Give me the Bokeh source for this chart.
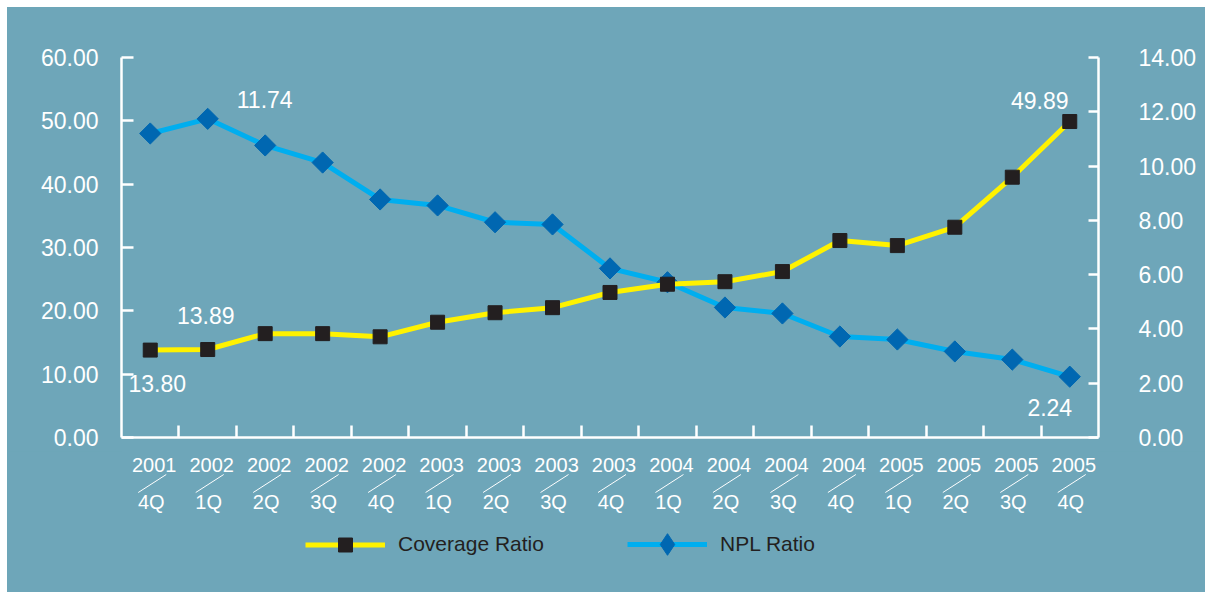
import math
from bokeh.plotting import figure
from bokeh.layouts import column
from bokeh.models import (Range1d, LinearAxis, NumeralTickFormatter, FixedTicker,
                          Label, Legend, LegendItem)
from bokeh.core.properties import value
from bokeh.embed import file_html
from bokeh.resources import INLINE

# ---- data ----
years = ["2001", "2002", "2002", "2002", "2002", "2003", "2003", "2003", "2003",
         "2004", "2004", "2004", "2004", "2005", "2005", "2005", "2005"]
quarters = ["4Q", "1Q", "2Q", "3Q", "4Q", "1Q", "2Q", "3Q", "4Q",
            "1Q", "2Q", "3Q", "4Q", "1Q", "2Q", "3Q", "4Q"]
coverage = [13.80, 13.89, 16.4, 16.4, 15.9, 18.2, 19.7, 20.5, 22.9,
            24.2, 24.6, 26.2, 31.1, 30.3, 33.2, 41.1, 49.89]
npl = [11.20, 11.74, 10.76, 10.13, 8.77, 8.55, 7.93, 7.85, 6.23,
       5.72, 4.79, 4.57, 3.72, 3.61, 3.17, 2.87, 2.24]
left_ticks = [0, 10, 20, 30, 40, 50, 60]
right_ticks = [0, 2, 4, 6, 8, 10, 12, 14]
series_names = ["Coverage Ratio", "NPL Ratio"]

BG = "#6ea6b9"
FONT = "Liberation Sans"
YELLOW = "#fff200"
SQ = "#231f20"
BLUE = "#00aeef"
DIAM = "#0067b1"
n = len(years)
xs = [i + 0.5 for i in range(n)]
PX = 977.0 / n  # pixels per category (for small offsets)

W = 1198
BL, BR = 114, 107
H1 = 444
H2 = 585 - H1

p = figure(width=W, height=H1, output_backend="svg", toolbar_location=None,
           x_range=Range1d(0, n), y_range=Range1d(0, 60),
           min_border_left=BL, min_border_right=BR, min_border_top=50,
           min_border_bottom=14)
p.background_fill_color = BG
p.border_fill_color = BG
p.outline_line_color = None
p.xgrid.visible = False
p.ygrid.visible = False
p.extra_y_ranges = {"npl": Range1d(0, 14)}

for ax in [p.xaxis[0], p.yaxis[0]]:
    ax.axis_line_color = "white"
    ax.axis_line_width = 2.5
    ax.major_tick_line_color = "white"
    ax.major_tick_line_width = 2.5
    ax.major_tick_in = 12
    ax.major_tick_out = 0
    ax.minor_tick_line_color = None

p.xaxis.ticker = FixedTicker(ticks=list(range(1, n)))
p.xaxis.major_label_text_font_size = "0px"
p.xaxis.major_label_standoff = 0
p.xaxis.major_label_overrides = {i: "" for i in range(1, n)}

p.yaxis.ticker = FixedTicker(ticks=left_ticks)
p.yaxis.formatter = NumeralTickFormatter(format="0.00")
p.yaxis.major_label_text_color = "white"
p.yaxis.major_label_text_font = FONT
p.yaxis.major_label_text_font_size = "23px"
p.yaxis.major_label_standoff = 23

rax = LinearAxis(y_range_name="npl", ticker=FixedTicker(ticks=right_ticks),
                 formatter=NumeralTickFormatter(format="0.00"))
rax.axis_line_color = "white"
rax.axis_line_width = 2.5
rax.major_tick_line_color = "white"
rax.major_tick_line_width = 2.5
rax.major_tick_in = 10
rax.major_tick_out = 0
rax.minor_tick_line_color = None
rax.major_label_text_color = "white"
rax.major_label_text_font = FONT
rax.major_label_text_font_size = "23px"
rax.major_label_standoff = 40
p.add_layout(rax, "right")

# series
p.line(xs, npl, y_range_name="npl", line_color=BLUE, line_width=5)
p.scatter(xs, npl, y_range_name="npl", marker="square", angle=math.pi / 4,
          size=15, fill_color=DIAM, line_color=DIAM)
p.line(xs, coverage, line_color=YELLOW, line_width=5)
p.scatter(xs, coverage, marker="square", size=14, fill_color=SQ, line_color=SQ)

def dlabel(txt, x, y, dx, dy, rng="default"):
    p.add_layout(Label(x=x, y=y, x_offset=dx, y_offset=dy, text=txt,
                       y_range_name=rng, text_align="center",
                       text_baseline="middle", text_color="white",
                       text_font=FONT, text_font_size="23px"))

dlabel("%.2f" % npl[1], xs[1], npl[1], 57, 19, "npl")
dlabel("%.2f" % coverage[1], xs[1], coverage[1], -2, 34)
dlabel("%.2f" % coverage[0], xs[0], coverage[0], 7, -33)
dlabel("%.2f" % coverage[-1], xs[-1], coverage[-1], -30, 21)
dlabel("%.2f" % npl[-1], xs[-1], npl[-1], -20, -31, "npl")

# ---- lower strip: category labels and legend ----
q = figure(width=W, height=H2, output_backend="svg", toolbar_location=None,
           x_range=Range1d(0, n), y_range=Range1d(0, H2),
           x_axis_location=None, y_axis_location=None,
           min_border_left=BL, min_border_right=BR, min_border_top=0,
           min_border_bottom=0)
q.background_fill_color = BG
q.border_fill_color = BG
q.outline_line_color = None
q.xgrid.visible = False
q.ygrid.visible = False
# the series are repeated here on a range far outside the view, only so that
# the legend can draw their line + marker samples
q.extra_y_ranges = {"npl": Range1d(-1000, -986), "cov": Range1d(-1000, -940)}

q.text(x=xs, y=[H2 - 13] * n, text=years, x_offset=4, text_align="center",
       text_baseline="middle", text_color="white", text_font=value(FONT),
       text_font_size="20px")
q.text(x=xs, y=[H2 - 50] * n, text=quarters, x_offset=1, text_align="center",
       text_baseline="middle", text_color="white", text_font=value(FONT),
       text_font_size="20px")
q.segment(x0=[x - 12 / PX for x in xs], y0=[H2 - 41] * n,
          x1=[x + 16 / PX for x in xs], y1=[H2 - 23] * n,
          line_color="white", line_width=1)

l1 = q.line(xs, coverage, y_range_name="cov", line_color=YELLOW, line_width=5)
s1 = q.scatter(xs, coverage, y_range_name="cov", marker="square", size=14,
               fill_color=SQ, line_color=SQ)
l2 = q.line(xs, npl, y_range_name="npl", line_color=BLUE, line_width=5)
s2 = q.scatter(xs, npl, y_range_name="npl", marker="diamond", size=20,
               fill_color=DIAM, line_color=DIAM)

LEG_CY = H2 - 93
def make_legend(label, rends, x, gh):
    lg = Legend(items=[LegendItem(label=label, renderers=rends)],
                orientation="horizontal", location=(x, LEG_CY - gh / 2),
                glyph_width=80, glyph_height=gh, label_standoff=13,
                padding=0, margin=0, border_line_color=None,
                background_fill_alpha=0, label_text_font=FONT,
                label_text_font_size="21px", label_text_color="#231f20")
    q.add_layout(lg, "center")

make_legend(series_names[0], [l1, s1], 184, 35)
make_legend(series_names[1], [l2, s2], 506, 54)

layout = column(p, q, spacing=0, margin=(7, 0, 0, 7),
                styles={"background-color": BG})
open("out.html", "w").write(file_html(layout, INLINE))
